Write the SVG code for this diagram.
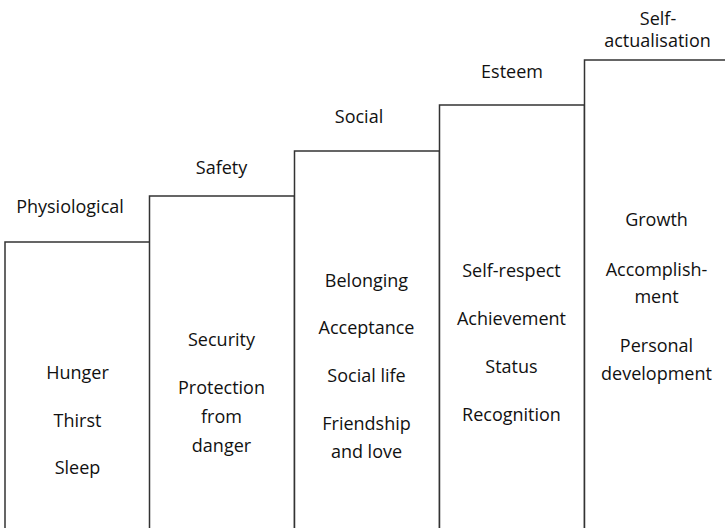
<svg xmlns="http://www.w3.org/2000/svg" width="725" height="528" viewBox="0 0 725 528">
<style>
.step{fill:#fff;stroke:#333;stroke-width:1.5}
text{font-family:"Open Sans","Noto Sans",sans-serif;font-size:18px;fill:#111;text-anchor:middle}
</style>
<rect width="725" height="528" fill="#fff"/>
<g id="physiological">
<rect class="step" x="5" y="242" width="145" height="300"/>
<text x="70" y="213">Physiological</text>
<text x="77.5" y="379">Hunger</text>
<text x="77.5" y="427">Thirst</text>
<text x="77.5" y="474">Sleep</text>
</g>
<g id="safety">
<rect class="step" x="149.5" y="196" width="145" height="350"/>
<text x="221.5" y="174">Safety</text>
<text x="221.5" y="346">Security</text>
<text x="221.5" y="394">Protection</text>
<text x="221.5" y="423">from</text>
<text x="221.5" y="452">danger</text>
</g>
<g id="social">
<rect class="step" x="294.5" y="151" width="145" height="400"/>
<text x="359" y="123">Social</text>
<text x="366.5" y="287">Belonging</text>
<text x="366.5" y="334">Acceptance</text>
<text x="366.5" y="382">Social life</text>
<text x="366.5" y="430">Friendship</text>
<text x="366.5" y="458">and love</text>
</g>
<g id="esteem">
<rect class="step" x="439.5" y="105" width="145" height="450"/>
<text x="512" y="78">Esteem</text>
<text x="511.5" y="277">Self-respect</text>
<text x="511.5" y="325">Achievement</text>
<text x="511.5" y="373">Status</text>
<text x="511.5" y="421">Recognition</text>
</g>
<g id="self-actualisation">
<rect class="step" x="584.5" y="60" width="160" height="500"/>
<text x="658" y="25">Self-</text>
<text x="657.5" y="47">actualisation</text>
<text x="656.5" y="226">Growth</text>
<text x="656.5" y="276">Accomplish-</text>
<text x="656.5" y="303">ment</text>
<text x="656.5" y="352">Personal</text>
<text x="656.5" y="380">development</text>
</g>
<g id="connectors"></g>
</svg>
